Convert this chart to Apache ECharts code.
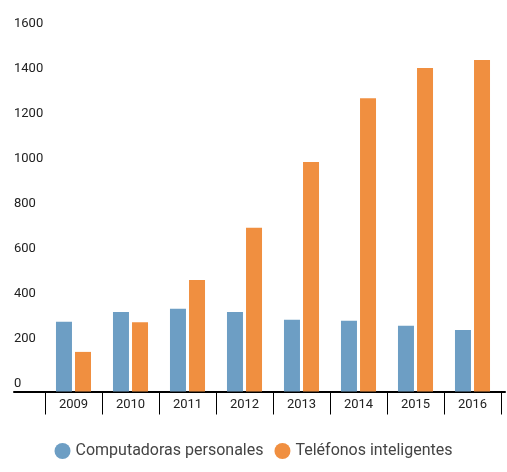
<!DOCTYPE html>
<html lang="es">
<head>
<meta charset="utf-8">
<title>Computadoras vs teléfonos</title>
<script src="https://cdn.jsdelivr.net/npm/echarts@6/dist/echarts.min.js"></script>
<style>
  html, body { margin: 0; padding: 0; background: #fff; }
  #main { width: 507px; height: 472px; }
</style>
</head>
<body>
<div id="main"></div>
<script type="text/javascript">
  // datos (millones de unidades)
  let years = ['2009', '2010', '2011', '2012', '2013', '2014', '2015', '2016'];
  let pcData = [310, 353, 368, 353, 319, 315, 292, 273];
  let phoneData = [176, 308, 496, 728, 1020, 1303, 1438, 1473];
  let seriesNames = ['Computadoras personales', 'Teléfonos inteligentes'];

  let chart = echarts.init(document.getElementById('main'));

  let option = {
    animation: false,
    textStyle: { fontFamily: 'Roboto' },
    legend: {
      data: seriesNames,
      bottom: 8,
      left: 'center',
      icon: 'circle',
      itemWidth: 16,
      itemHeight: 16,
      itemGap: 11,
      textStyle: { fontSize: 16, color: '#444', fontFamily: 'Roboto' }
    },
    grid: [
      { left: 45, right: 6, top: 31.5, bottom: 80.5 },
      // solo para prolongar la línea del eje a la izquierda
      { left: 14, right: 2, top: 31.5, bottom: 80.5 }
    ],
    xAxis: [
      {
        type: 'category',
        data: years,
        gridIndex: 0,
        axisLine: { lineStyle: { color: '#000', width: 2 } },
        axisTick: { show: true, length: 23, interval: 0, lineStyle: { color: '#000', width: 1 } },
        axisLabel: { margin: 7, fontSize: 13, color: '#222', interval: 0 }
      },
      {
        type: 'value',
        gridIndex: 1,
        min: 0,
        max: 1,
        axisLine: { show: true, onZero: false, lineStyle: { color: '#000', width: 2 } },
        axisTick: { show: false },
        axisLabel: { show: false },
        splitLine: { show: false }
      }
    ],
    yAxis: [
      {
        type: 'value',
        gridIndex: 0,
        min: 0,
        max: 1600,
        interval: 200,
        axisLine: { show: false },
        axisTick: { show: false },
        splitLine: { show: false },
        axisLabel: {
          align: 'left',
          margin: 31,
          verticalAlign: 'bottom',
          lineHeight: 13,
          padding: [0, 0, 1, 0],
          fontSize: 13,
          color: '#222',
          formatter: function (v) { return String(v); }
        }
      },
      { type: 'value', gridIndex: 1, show: false, min: 0, max: 1 }
    ],
    series: [
      {
        name: seriesNames[0],
        type: 'bar',
        data: pcData,
        barWidth: 16,
        barGap: '19%',
        itemStyle: { color: '#6d9ec4' }
      },
      {
        name: seriesNames[1],
        type: 'bar',
        data: phoneData,
        barWidth: 16,
        barGap: '19%',
        itemStyle: { color: '#f08f40' }
      }
    ]
  };

  chart.setOption(option);
</script>
</body>
</html>
